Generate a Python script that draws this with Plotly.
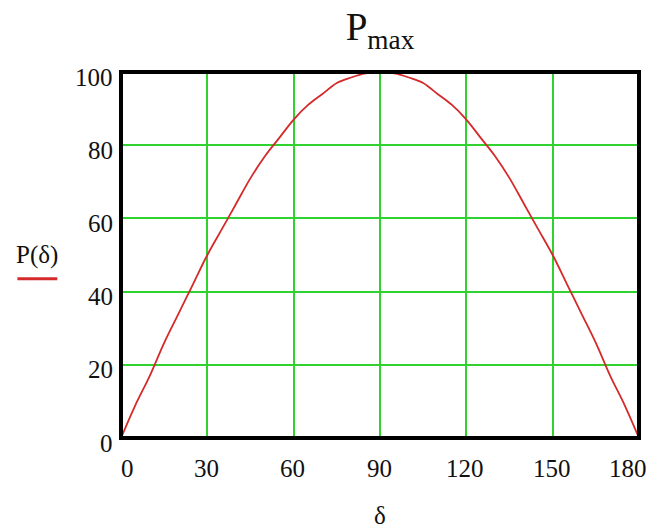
import plotly.graph_objects as go

# angle δ in degrees and P(δ) values
delta = [0, 5, 10, 15, 20, 25, 30, 35, 40, 45, 50, 55, 60, 65, 70, 75, 80, 85, 90,
         95, 100, 105, 110, 115, 120, 125, 130, 135, 140, 145, 150, 155, 160, 165, 170, 175, 180]
P = [0, 9, 17, 26, 34, 42, 50, 57, 64, 71, 77, 82, 87, 91, 94, 97, 98.5, 99.6, 100,
     99.6, 98.5, 97, 94, 91, 87, 82, 77, 71, 64, 57, 50, 42, 34, 26, 17, 9, 0]

x_ticks = [0, 30, 60, 90, 120, 150, 180]
x_tick_labels = ["0", "30", "60", "90", "120", "150", "180"]
y_ticks = [0, 20, 40, 60, 80, 100]
y_tick_labels = ["0", "20", "40", "60", "80", "100"]

FONT = "Liberation Serif"
GRID = "#2fd22f"
TXT = "#111"
TS = 25

fig = go.Figure()
fig.add_trace(go.Scatter(x=delta, y=P, mode="lines",
                         line=dict(color="#d42a2a", width=1.8, shape="spline", smoothing=1),
                         showlegend=False))

fig.update_layout(
    width=649, height=521,
    margin=dict(l=113, r=18, t=64, b=91),
    paper_bgcolor="white", plot_bgcolor="white",
    font=dict(family=FONT, color=TXT, size=TS),
    title=dict(text="P<sub>max</sub>", x=0.5, xref="paper", xanchor="center",
               y=0.964, yref="container", yanchor="middle",
               font=dict(family=FONT, size=39, color=TXT)),
    xaxis=dict(range=[0, 180], tickvals=x_ticks, showticklabels=False,
               showgrid=True, gridcolor=GRID, gridwidth=1.5, zeroline=False,
               showline=False, ticks=""),
    yaxis=dict(range=[0, 100], tickvals=y_ticks, showticklabels=False,
               showgrid=True, gridcolor=GRID, gridwidth=1.5, zeroline=False,
               showline=False, ticks=""),
)

# x tick labels (edge labels sit slightly inward, as in the original)
for v, t in zip(x_ticks, x_tick_labels):
    xs = 6 if v == x_ticks[0] else (-11 if v == x_ticks[-1] else -1)
    fig.add_annotation(x=v, y=0, xref="x", yref="y", text=t, showarrow=False,
                       xanchor="center", yanchor="middle", xshift=xs, yshift=-30,
                       font=dict(family=FONT, size=TS, color=TXT))

# y tick labels (sit a little below their grid lines)
for v, t in zip(y_ticks, y_tick_labels):
    fig.add_annotation(x=0, y=v, xref="paper", yref="y", text=t, showarrow=False,
                       xanchor="right", yanchor="middle", xshift=-6, yshift=-5,
                       font=dict(family=FONT, size=TS, color=TXT))

# x axis title
fig.add_annotation(x=0.5, y=0, xref="paper", yref="paper", text="δ", showarrow=False,
                   xanchor="center", yanchor="middle", yshift=-77,
                   font=dict(family=FONT, size=TS, color=TXT))

# legend-like y label with red line sample
fig.add_annotation(x=-0.162, y=0.5, xref="paper", yref="paper", text="P(δ)",
                   showarrow=False, xanchor="center", yanchor="middle",
                   font=dict(family=FONT, size=TS, color=TXT))
fig.add_shape(type="line", xref="paper", yref="paper", x0=-0.2, x1=-0.123,
              y0=0.435, y1=0.435, line=dict(color="#d42a2a", width=3))

# plot frame
fig.add_shape(type="rect", xref="paper", yref="paper", x0=0, x1=1, y0=0, y1=1,
              line=dict(color="black", width=4), layer="above")

fig.write_html("out.html")
